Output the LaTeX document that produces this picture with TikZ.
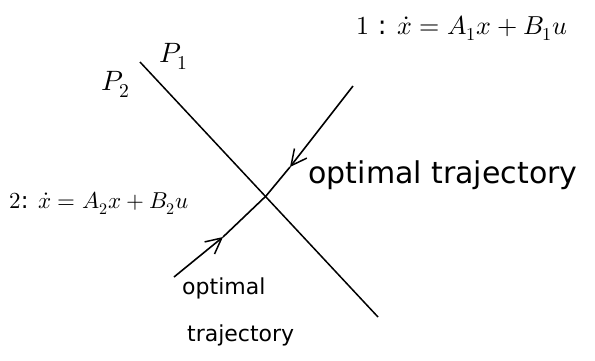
\documentclass[tikz,border=0pt]{standalone}
\usepackage{fontspec}
\usepackage{unicode-math}
\setmainfont{DejaVu Sans}
\setmathfont{Latin Modern Math}
\usepackage{tikz}
\usetikzlibrary{arrows.meta, positioning, calc}

\begin{document}
\begin{tikzpicture}[
  x=1pt, y=-1pt,
  font=\fontsize{22}{26}\selectfont,
  >={Straight Barb[length=5.5mm,width=5.5mm,line width=1.5pt]},
  lbl/.style={inner sep=0pt, align=center},
  eqn/.style={lbl, font=\fontsize{26}{30}\selectfont},
  plbl/.style={lbl, font=\fontsize{28}{32}\selectfont},
  surf/.style={line width=1.5pt, black},
  traj/.style={line width=1.6pt, black},
]
\useasboundingbox (0,0) rectangle (595,360);

% --- switching surface ---
\coordinate (swtop) at (140,62);
\coordinate (swbot) at (378,317);
\coordinate (cross) at (266,196);
\draw[surf] (swtop) -- (swbot);

% --- surface labels ---
\node[plbl] (p1) at (174,56) {$P_1$};
\node[plbl] (p2) at (116,84) {$P_2$};

% --- region dynamics ---
\node[eqn] (dyn1) at (462,28) {$1$ : $\dot{x} = A_1 x + B_1 u$};
\node[eqn, font=\fontsize{23}{27}\selectfont] (dyn2) at (99,203)
  {$2$: $\dot{x} = A_2 x + B_2 u$};

% --- trajectory in region 1 ---
\coordinate (t1start) at (353,86);
\coordinate (t1mid) at (290,167);
\draw[traj, ->] (t1start) -- (t1mid);
\draw[traj] (t1mid) -- (cross);
\node[lbl, font=\fontsize{30}{34}\selectfont] (opt1) at (443,175) {optimal trajectory};

% --- trajectory in region 2 ---
\coordinate (t2start) at (174,277);
\coordinate (t2mid) at (223,237);
\draw[traj, ->] (t2start) -- (t2mid);
\draw[traj] (t2mid) -- (cross);
\node[lbl, anchor=west] (opt2a) at (182,288) {optimal};
\node[lbl, anchor=west] (opt2b) at (187,335) {trajectory};

\end{tikzpicture}
\end{document}
